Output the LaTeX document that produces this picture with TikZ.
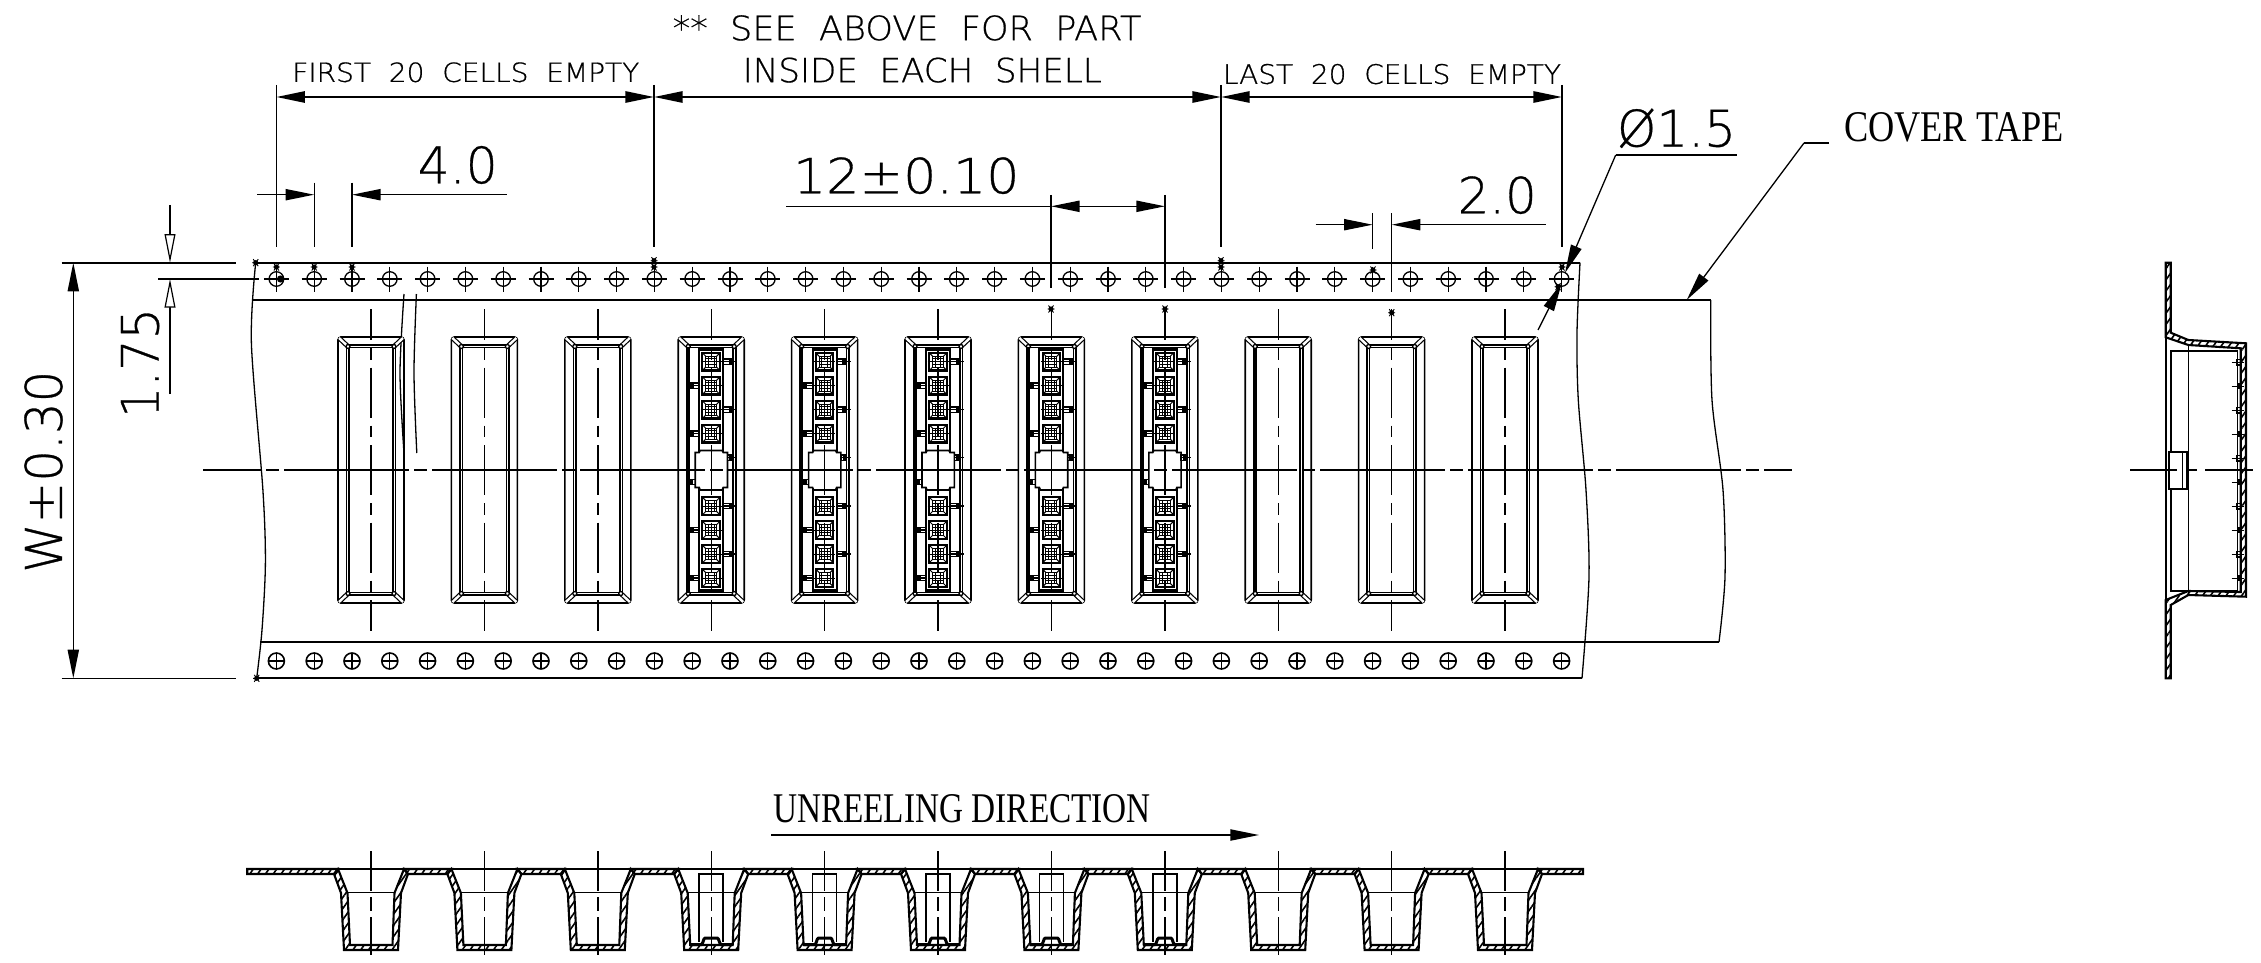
\documentclass[tikz,border=0pt]{standalone}
\usepackage{fontspec}
\usepackage{graphicx}
\usetikzlibrary{arrows.meta,patterns.meta}
\newfontfamily\cadfont[WordSpace=2.0,FakeBold=0.6]{DejaVu Sans ExtraLight}
\newfontfamily\serfont{Liberation Serif}
\newdimen\ppx \ppx=0.5pt
\newcommand\cadt[3]{\resizebox{#1\ppx}{#2\ppx}{\cadfont #3}}
\newcommand\sert[3]{\resizebox{#1\ppx}{#2\ppx}{\serfont #3}}
\newcommand\cadstar[2]{\fill (#1,#2) circle[radius=1.3pt];
  \draw[line width=.45pt] (#1,#2) ++(-3.5,0) -- ++(7,0) (#1,#2) ++(-2.5,-3.5) -- ++(5,7) (#1,#2) ++(2.5,-3.5) -- ++(-5,7);}
\tikzset{
  base/.style={line width=.8pt,line join=miter},
  thinl/.style={line width=.65pt},
  boldl/.style={line width=1.05pt},
  fa/.style={-{Triangle[length=14.3pt,width=5.6pt]}},
  ba/.style={{Triangle[length=14.3pt,width=5.6pt]}-{Triangle[length=14.3pt,width=5.6pt]}},
  ha/.style={-{Triangle[open,length=14.3pt,width=5.4pt,line width=.6pt,fill=white]}},
  txt/.style={inner sep=0pt,outer sep=0pt,anchor=south west},
  rtxt/.style={inner sep=0pt,outer sep=0pt,anchor=south west,rotate=90},
  cline/.style={line width=.7pt,dash pattern=on 25pt off 4pt on 5.75pt off 4pt,dash phase=9.5pt},
  mainc/.style={line width=1.05pt,dash pattern=on 62.5pt off 2.5pt on 6.5pt off 2.5pt,dash phase=33.5pt},
  hatch/.style={pattern={Lines[angle=55,distance=3.2pt,line width=.8pt]}},
}
\begin{document}
\begin{tikzpicture}[x=.5pt,y=-.5pt,base]
\useasboundingbox (0,0) rectangle (2261,963);
\fill[white] (0,0) rectangle (2261,963);

% tape outline
\draw[boldl] (256,262.7) -- (1580,262.7);
\draw[boldl] (256.7,678.3) -- (1582,678.3);
\draw[base] (252.7,300) -- (1710.7,300);
\draw[base] (260,642) -- (1719,642);
\draw[thinl] plot[smooth] coordinates {(255.7,262.7) (251.4,343.3) (262.9,490) (265.4,563) (262,630) (256.7,678.3)};
\draw[thinl] plot[smooth] coordinates {(1580,262.7) (1577,333) (1578.3,400) (1586,490) (1589,577) (1582,678.3)};
\draw[thinl] plot[smooth] coordinates {(1710.7,300) (1712,400) (1723,490) (1725,577) (1719,642)};
\draw[thinl] plot[smooth] coordinates {(404,294) (400,373) (404,453)};
\draw[thinl] plot[smooth] coordinates {(416.4,294) (414,373) (416.8,453)};

% sprocket holes
\foreach \i in {0,...,34}{
  \pgfmathsetmacro\hx{276.4+37.8*\i}
  \draw[thinl] (\hx,279) circle[radius=3.65pt];
  \draw[thinl] (\hx,279) ++(-12.5,0) -- ++(25,0) (\hx,279) ++(0,-12.5) -- ++(0,25);
  \draw[base] (\hx,661) circle[radius=4pt];
  \draw[thinl] (\hx,661) ++(-8,0) -- ++(16,0) (\hx,661) ++(0,-8) -- ++(0,16);
}

% cavities, plan view
\foreach \i in {0,...,10}{
  \pgfmathsetmacro\cx{371+113.4*\i}
  \begin{scope}[shift={(\cx,470)}]
    \draw[base,rounded corners=1.5pt] (-33,-133) rectangle (33,133);
    \draw[base] (-24.5,-125) rectangle (24.5,125);
    \draw[base] (-22,-122.5) rectangle (22,122.5);
    \foreach \sx/\sy in {-1/-1,1/-1,-1/1,1/1}{
      \draw[line width=.6pt,double,double distance=1.2pt] (\sx*32,\sy*132) -- (\sx*23.5,\sy*124);
      \draw[thinl,fill=white] (\sx*23,\sy*123.5) circle[radius=1pt];
    }
  \end{scope}
}
\foreach \i in {3,...,7}{
  \pgfmathsetmacro\cx{371+113.4*\i}
  \begin{scope}[shift={(\cx,470)}]
    \draw[line width=1.5pt] (-23.3,-123) -- (-23.3,123);
    \draw[boldl] (-12,-120.5) rectangle (12,120.5);
    \foreach \d in {-108.3,-84.3,-60.3,-36.3,36,60,84,108}{
      \draw[line width=1.05pt] (-8.8,\d-8.8) rectangle (8.8,\d+8.8);
      \draw[line width=.55pt] (-5.5,\d-5.5) rectangle (5.5,\d+5.5);
      \draw[line width=.5pt] (-8.8,\d-8.8) -- (-5.5,\d-5.5) (8.8,\d-8.8) -- (5.5,\d-5.5) (-8.8,\d+8.8) -- (-5.5,\d+5.5) (8.8,\d+8.8) -- (5.5,\d+5.5);
      \draw[line width=.5pt] (-10.5,\d) -- (10.5,\d) (-2.8,\d-5.5) -- (-2.8,\d+5.5) (2.8,\d-5.5) -- (2.8,\d+5.5) (-5.5,\d-2.8) -- (5.5,\d-2.8) (-5.5,\d+2.8) -- (5.5,\d+2.8);
    }
    \draw[base,fill=white] (-11,-19.5) -- (11,-19.5) -- (12,-17.5) -- (16.3,-17.5) -- (16.3,17.5) -- (12,17.5) -- (11,20) -- (-11,20) -- (-12,17.5) -- (-16,17.5) -- (-16,-17.5) -- (-12,-17.5) -- cycle;
    \foreach \d in {-108.3,-60.3,36,84}{
      \draw[thinl] (12,\d-2.7) rectangle (20.5,\d+2.7);
      \fill (17.5,\d-2.7) rectangle (21,\d+2.7);
      \draw[thinl] (12,\d) -- (26,\d);
    }
    \draw[thinl] (16.3,-15) rectangle (20.5,-9.6);
    \fill (18,-15) rectangle (21,-9.6);
    \draw[thinl] (16.3,-12.3) -- (26,-12.3);
    \foreach \d in {-84.3,-36.3,60,108}{
      \draw[thinl] (-21,\d-2.7) rectangle (-12,\d+2.7);
      \fill (-21,\d-2.7) rectangle (-17.5,\d+2.7);
      \draw[thinl] (-24,\d) -- (-12,\d);
    }
    \draw[thinl] (-21,9.3) rectangle (-16,14.7);
    \fill (-21,9.3) rectangle (-18,14.7);
  \end{scope}
}
\foreach \i in {0,...,10}{
  \pgfmathsetmacro\cx{371+113.4*\i}
  \draw[cline] (\cx,309) -- (\cx,631);
}
\draw[mainc] (203.3,469.7) -- (1792,469.7);

% section below
\draw[boldl] (247.2,869) -- (1583,869);
\draw[boldl,hatch] (247.2,869) -- (338,869) -- (334,874) -- (247.2,874) -- cycle;
\foreach \i in {0,...,9}{
  \pgfmathsetmacro\ca{371+113.4*\i+37}
  \pgfmathsetmacro\cb{371+113.4*\i+33}
  \pgfmathsetmacro\cc{371+113.4*(\i+1)-37}
  \pgfmathsetmacro\cd{371+113.4*(\i+1)-33}
  \draw[boldl,hatch] (\cb,869) -- (\cd,869) -- (\cc,874) -- (\ca,874) -- cycle;
}
\draw[boldl,hatch] (1542,874) -- (1583,874) -- (1583,869) -- (1538,869) -- cycle;
\foreach \i in {0,...,10}{
  \pgfmathsetmacro\cx{371+113.4*\i}
  \begin{scope}[shift={(\cx,0)}]
    \draw[boldl,hatch] (-37,874) -- (-30,893) -- (-27,950) -- (27,950) -- (30,893) -- (37,874) -- (33,869) -- (23.5,893) -- (21.5,945) -- (-21,945) -- (-23.5,893) -- (-33,869) -- cycle;
    \draw[thinl] (-23.5,892.7) -- (23.5,892.7);
  \end{scope}
}
\foreach \i in {3,...,7}{
  \pgfmathsetmacro\cx{371+113.4*\i}
  \begin{scope}[shift={(\cx,0)}]
    \draw[base] (-12,942) -- (-12,874) -- (12,874) -- (12,942);
    \draw[line width=1.5pt] (-21,944.5) -- (-10,944.5) .. controls (-8,944.5) and (-8,938) .. (-6,938) -- (6,938) .. controls (8,938) and (8,944.5) .. (10,944.5) -- (21,944.5);
  \end{scope}
}
\foreach \i in {0,...,10}{
  \pgfmathsetmacro\cx{371+113.4*\i}
  \draw[line width=.7pt,dash pattern=on 20pt off 3pt on 7pt off 3pt] (\cx,851) -- (\cx,955);
}

% side view
\draw[boldl,hatch] (2165.7,262.7) -- (2170.7,262.7) -- (2170.7,332.7) -- (2188.3,340) -- (2246,343.3) -- (2246,596.7) -- (2188.3,595) -- (2170.7,605) -- (2170.7,678.3) -- (2165.7,678.3) -- (2165.7,600) -- (2188.3,591) -- (2240.7,592) -- (2240.7,348.3) -- (2188.3,345) -- (2165.7,337.3) -- cycle;
\draw[base] (2165.7,337.3) -- (2165.7,600);
\draw[base] (2170.7,350.7) rectangle (2237.3,590.7);
\draw[base] (2188.3,345) -- (2188.3,595);
\draw[line width=1.2pt,fill=white] (2169,452) rectangle (2186.7,488.7);
\draw[thinl] (2182.3,452) -- (2182.3,488.7);
\foreach \i in {0,...,9}{
  \pgfmathsetmacro\py{362.3+24*\i}
  \draw[thinl] (2231.7,\py) -- (2244,\py);
  \ifodd\i
    \fill (2236.5,\py-3) rectangle (2240.5,\py+3);
  \else
    \draw[thinl] (2236.5,\py-2.7) rectangle (2240.5,\py+2.7);
  \fi
}
\draw[line width=.95pt,dash pattern=on 23.5pt off 5pt on 5pt off 4pt on 24pt off 1pt] (2130,470) -- (2253,470);

% left dimensions
\coordinate (wa) at (61.7,262.7); \coordinate (wb) at (235.7,262.7);
\coordinate (wc) at (61.7,678.3); \coordinate (wd) at (235.7,678.3);
\coordinate (we) at (158.3,279); \coordinate (wf) at (259,279);
\draw[base] (wa) -- (wb);
\draw[base] (wc) -- (wd);
\draw[thinl] (we) -- (wf);
\coordinate (wt) at (73.3,262.7); \coordinate (wu) at (73.3,678.3);
\draw[thinl,ba] (wt) -- (wu);
\coordinate (fa) at (170,205); \coordinate (fb) at (170,262.7);
\coordinate (fc) at (170,394); \coordinate (fd) at (170,279);
\draw[thinl,ha] (fa) -- (fb);
\draw[thinl,ha] (fc) -- (fd);
\node[rtxt] (nW) at (62.7,572.7) {\cadt{202}{37.7}{W±0.30}};
\node[rtxt] (n175) at (159.3,418) {\cadt{110}{37.6}{1.75}};

% top dimensions
\foreach \nm/\xx in {e1/276.3,e2/654,e3/1221,e4/1562}{
  \coordinate (\nm t) at (\xx,85); \coordinate (\nm b) at (\xx,246.7);
  \draw[thinl] (\nm t) -- (\nm b);
}
\coordinate (l1) at (276.3,97); \coordinate (l2) at (654,97); \coordinate (l3) at (1221,97); \coordinate (l4) at (1562,97);
\draw[boldl,ba] (l1) -- (l2);
\draw[boldl,ba] (l2) -- (l3);
\draw[boldl,ba] (l3) -- (l4);
\node[txt] (nfirst) at (292.3,82.3) {\cadt{347}{19.6}{FIRST 20 CELLS EMPTY}};
\node[txt] (nlast) at (1223,84.3) {\cadt{338}{20}{LAST 20 CELLS EMPTY}};
\node[txt] (nsee) at (672.7,40.7) {\cadt{468.7}{25}{** SEE ABOVE FOR PART}};
\node[txt] (nins) at (742.8,82.7) {\cadt{359}{24.7}{INSIDE EACH SHELL}};

% 4.0
\foreach \nm/\xx in {g1/314.2,g2/352}{
  \coordinate (\nm t) at (\xx,182.7); \coordinate (\nm b) at (\xx,246.7);
  \draw[thinl] (\nm t) -- (\nm b);
}
\coordinate (h0) at (257.3,194.7); \coordinate (h1) at (314.2,194.7);
\coordinate (h2) at (352,194.7); \coordinate (h3) at (506.7,194.7);
\draw[thinl,fa] (h0) -- (h1);
\draw[thinl,fa] (h3) -- (h2);
\node[txt] (n40) at (417.7,184) {\cadt{80}{37.3}{4.0}};

% 12
\foreach \nm/\xx in {i1/1051,i2/1165}{
  \coordinate (\nm t) at (\xx,195); \coordinate (\nm b) at (\xx,288);
  \draw[thinl] (\nm t) -- (\nm b);
}
\coordinate (j0) at (786,206.3); \coordinate (j1) at (1051,206.3); \coordinate (j2) at (1165,206.3);
\draw[thinl] (j0) -- (j1);
\draw[thinl,ba] (j1) -- (j2);
\node[txt] (n12) at (793,194) {\cadt{226.5}{36}{12±0.10}};

% 2.0
\coordinate (k1t) at (1372.7,213.3); \coordinate (k1b) at (1372.7,249.3);
\coordinate (k2t) at (1391.7,213.3); \coordinate (k2b) at (1391.7,291.7);
\draw[thinl] (k1t) -- (k1b);
\draw[thinl] (k2t) -- (k2b);
\coordinate (m0) at (1315.7,224.7); \coordinate (m1) at (1372.7,224.7);
\coordinate (m2) at (1391.7,224.7); \coordinate (m3) at (1545.7,224.7);
\draw[thinl,fa] (m0) -- (m1);
\draw[thinl,fa] (m3) -- (m2);
\node[txt] (n20) at (1457.7,214) {\cadt{79}{37}{2.0}};

% diameter
\coordinate (p0) at (1736.7,155); \coordinate (p1) at (1615.7,155); \coordinate (p2) at (1565,273);
\draw[thinl] (p0) -- (p1);
\draw[thinl,fa] (p1) -- (p2);
\coordinate (q0) at (1538,330); \coordinate (q1) at (1561.7,283);
\draw[thinl,fa] (q0) -- (q1);
\node[txt] (nd) at (1617,148) {\cadt{119}{38}{Ø1.5}};

% cover tape
\coordinate (r0) at (1829,143); \coordinate (r1) at (1804,143); \coordinate (r2) at (1686.7,300);
\draw[thinl] (r0) -- (r1);
\draw[thinl,fa] (r1) -- (r2);
\node[txt] (ncover) at (1844,142) {\sert{220}{29}{COVER TAPE}};

% unreeling
\node[txt] (nun) at (773,823) {\sert{378}{28}{UNREELING DIRECTION}};
\coordinate (u0) at (771,835); \coordinate (u1) at (1259,835);
\draw[thinl,fa] (u0) -- (u1);

% markers
\foreach \mx/\my in {255.7/262.7,256.7/678.3,276.4/267,314.2/267,352/267,654/260.7,654/267,1221/260.7,1221/267,1373/270,1562/267,1558/286.7,1051/309,1165/309,1391.7/312.7}{
  \cadstar{\mx}{\my}
}
\fill (280.5,279) circle[radius=1.8pt];
\end{tikzpicture}
\end{document}
